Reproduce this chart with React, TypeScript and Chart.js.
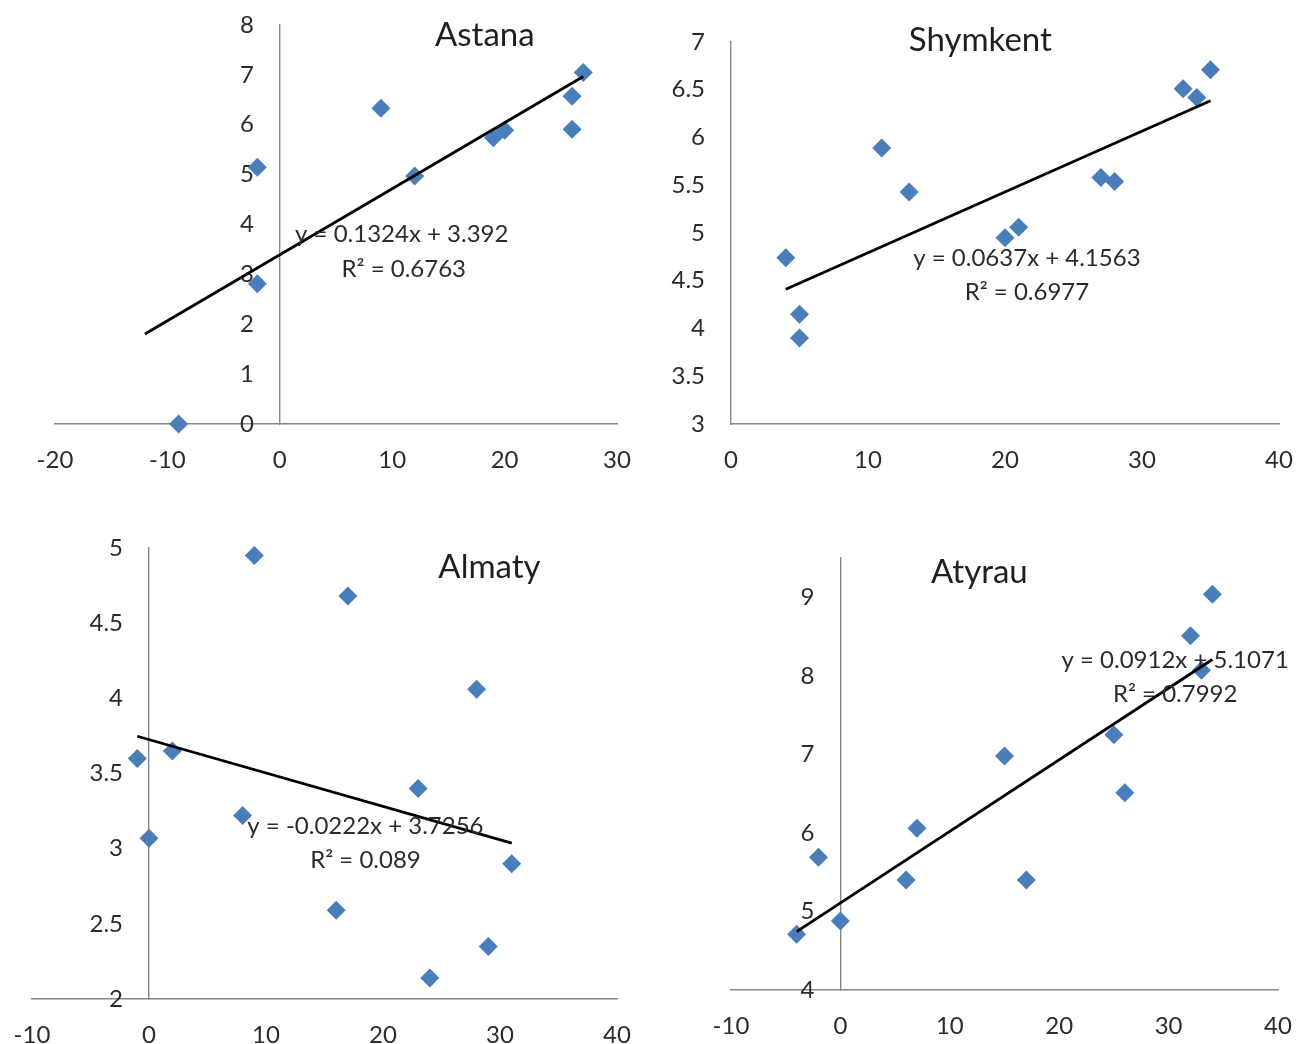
import React, { useEffect, useRef } from 'react';
import { Chart, registerables } from 'chart.js';

Chart.register(...registerables);

// ---------- data ----------
const astanaX = [-9, -2, -2, 9, 12, 19, 20, 26, 26, 27];
const astanaY = [0, 5.15, 2.81, 6.33, 4.97, 5.74, 5.89, 6.57, 5.91, 7.05];

const shymkentX = [4, 5, 5, 11, 13, 20, 21, 27, 28, 33, 34, 35];
const shymkentY = [4.74, 4.15, 3.9, 5.89, 5.43, 4.95, 5.06, 5.58, 5.54, 6.51, 6.42, 6.71];

const almatyX = [-1, 0, 2, 8, 9, 16, 17, 23, 24, 28, 29, 31];
const almatyY = [3.6, 3.07, 3.65, 3.22, 4.95, 2.59, 4.68, 3.4, 2.14, 4.06, 2.35, 2.9];

const atyrauX = [-4, -2, 0, 6, 7, 15, 17, 25, 26, 32, 33, 34];
const atyrauY = [4.71, 5.69, 4.88, 5.4, 6.06, 6.98, 5.4, 7.25, 6.51, 8.51, 8.07, 9.04];

const cityNames = ['Astana', 'Shymkent', 'Almaty', 'Atyrau'];
const trendSlopes = [0.1324, 0.0637, -0.0222, 0.0912];
const trendIntercepts = [3.392, 4.1563, 3.7256, 5.1071];
const trendR2 = [0.6763, 0.6977, 0.089, 0.7992];
const trendFromX = [-12, 4, -1, -4];
const trendToX = [27, 35, 31, 34];

const astanaXTicks = [-20, -10, 0, 10, 20, 30];
const astanaYTicks = [0, 1, 2, 3, 4, 5, 6, 7, 8];
const shymkentXTicks = [0, 10, 20, 30, 40];
const shymkentYTicks = [3, 3.5, 4, 4.5, 5, 5.5, 6, 6.5, 7];
const almatyXTicks = [-10, 0, 10, 20, 30, 40];
const almatyYTicks = [2, 2.5, 3, 3.5, 4, 4.5, 5];
const atyrauXTicks = [-10, 0, 10, 20, 30, 40];
const atyrauYTicks = [4, 5, 6, 7, 8, 9];

const xRanges = [[-20, 30], [0, 40], [-10, 40], [-10, 40]];
const yRanges = [[0, 8], [3, 7], [2, 5], [4, 9.5]];

// ---------- layout / style ----------
const FONT = 'Lato, "Open Sans", sans-serif';
const MARKER = '#4a7ebb';
const AXIS = '#878787';
const TEXT = '#2b2b2b';
const Y_LABEL_GAP = 26;
const X_LABEL_GAP = 22;

const panels = [
  {
    xs: astanaX, ys: astanaY, xTicks: astanaXTicks, yTicks: astanaYTicks,
    left: 0, top: 0, w: 648, h: 500,
    pad: { left: 55, right: 31, top: 25, bottom: 76 },
    titleAt: [18.24, 7.8], eqAt: [10.85, 3.81], r2At: [11.03, 3.11],
  },
  {
    xs: shymkentX, ys: shymkentY, xTicks: shymkentXTicks, yTicks: shymkentYTicks,
    left: 648, top: 0, w: 648, h: 500,
    pad: { left: 83, right: 17, top: 42, bottom: 76 },
    titleAt: [18.2, 7.02], eqAt: [21.6, 4.74], r2At: [21.6, 4.38],
  },
  {
    xs: almatyX, ys: almatyY, xTicks: almatyXTicks, yTicks: almatyYTicks,
    left: 0, top: 500, w: 648, h: 544,
    pad: { left: 32, right: 31, top: 48, bottom: 45 },
    titleAt: [29.1, 4.87], eqAt: [18.5, 3.15], r2At: [18.5, 2.92],
  },
  {
    xs: atyrauX, ys: atyrauY, xTicks: atyrauXTicks, yTicks: atyrauYTicks,
    left: 648, top: 500, w: 648, h: 544,
    pad: { left: 83, right: 18, top: 58, bottom: 54 },
    titleAt: [12.7, 9.32], eqAt: [30.6, 8.2], r2At: [30.6, 7.77],
  },
];

function Panel({ idx }: { idx: number }) {
  const ref = useRef<HTMLCanvasElement | null>(null);
  const p = panels[idx];

  useEffect(() => {
    if (!ref.current) return;
    const pts = p.xs.map((x, i) => ({ x, y: p.ys[i] }));
    const m = trendSlopes[idx];
    const b = trendIntercepts[idx];
    const trend = [trendFromX[idx], trendToX[idx]].map((x) => ({ x, y: m * x + b }));
    const [xMin, xMax] = xRanges[idx];
    const [yMin, yMax] = yRanges[idx];
    const eqText = `y = ${m}x + ${b}`;
    const r2Text = `R\u00b2 = ${trendR2[idx]}`;

    // y-axis tick labels, drawn next to the axis line that crosses at x = 0
    const yLabelPlugin = {
      id: 'yLabels',
      beforeDatasetsDraw(chart: any) {
        const ctx = chart.ctx;
        const sx = chart.scales.x;
        const sy = chart.scales.y;
        const axisX = sx.getPixelForValue(0);
        ctx.save();
        ctx.textAlign = 'right';
        ctx.textBaseline = 'middle';
        ctx.fillStyle = TEXT;
        ctx.font = `24px ${FONT}`;
        for (const t of sy.ticks) {
          ctx.fillText(String(t.value), axisX - Y_LABEL_GAP, sy.getPixelForValue(t.value));
        }
        ctx.restore();
      },
    };

    const textPlugin = {
      id: 'panelText',
      afterDatasetsDraw(chart: any) {
        const ctx = chart.ctx;
        const sx = chart.scales.x;
        const sy = chart.scales.y;
        ctx.save();
        ctx.textAlign = 'center';
        ctx.textBaseline = 'middle';
        ctx.fillStyle = '#1f1f1f';
        ctx.font = `33px ${FONT}`;
        ctx.fillText(cityNames[idx], sx.getPixelForValue(p.titleAt[0]), sy.getPixelForValue(p.titleAt[1]));
        ctx.fillStyle = TEXT;
        ctx.font = `24px ${FONT}`;
        ctx.fillText(eqText, sx.getPixelForValue(p.eqAt[0]), sy.getPixelForValue(p.eqAt[1]));
        ctx.fillText(r2Text, sx.getPixelForValue(p.r2At[0]), sy.getPixelForValue(p.r2At[1]));
        ctx.restore();
      },
    };

    const tickFont = { family: FONT, size: 24 };

    const chart = new Chart(ref.current, {
      type: 'scatter',
      data: {
        datasets: [
          {
            type: 'line',
            data: trend,
            borderColor: '#000',
            borderWidth: 2.8,
            pointRadius: 0,
            fill: false,
            order: 0,
            clip: false,
          } as any,
          {
            data: pts,
            pointStyle: 'rectRot',
            pointRadius: 9.5,
            pointBackgroundColor: MARKER,
            pointBorderColor: MARKER,
            pointBorderWidth: 0,
            order: 1,
            clip: false,
          } as any,
        ],
      },
      options: {
        animation: false,
        responsive: false,
        events: [],
        layout: { padding: p.pad },
        plugins: { legend: { display: false }, tooltip: { enabled: false }, title: { display: false } },
        scales: {
          x: {
            type: 'linear',
            min: xMin,
            max: xMax,
            position: { y: yMin } as any,
            grid: { display: false, drawTicks: true, tickLength: X_LABEL_GAP },
            border: { display: true, color: AXIS, width: 1.4 },
            ticks: {
              padding: 0,
              color: TEXT,
              font: tickFont,
              autoSkip: false,
              maxRotation: 0,
              callback: (v: any) => String(v),
            },
            afterBuildTicks: (s: any) => {
              s.ticks = p.xTicks.map((v) => ({ value: v }));
            },
          },
          y: {
            type: 'linear',
            min: yMin,
            max: yMax,
            position: { x: 0 } as any,
            grid: { display: false, drawTicks: false },
            border: { display: true, color: AXIS, width: 1.4 },
            ticks: {
              display: false,
              padding: 0,
            },
            afterBuildTicks: (s: any) => {
              s.ticks = p.yTicks.map((v) => ({ value: v }));
            },
          },
        } as any,
      },
      plugins: [yLabelPlugin, textPlugin],
    });

    const fonts: any = (document as any).fonts;
    if (fonts && fonts.load) {
      Promise.all([fonts.load(`24px Lato`), fonts.load(`33px Lato`)]).then(() => {
        try { chart.update(); } catch (e) { /* ignore */ }
      });
    }
    return () => chart.destroy();
  }, [idx]);

  return (
    <canvas
      ref={ref}
      width={p.w}
      height={p.h}
      style={{ position: 'absolute', left: p.left, top: p.top, width: p.w, height: p.h }}
    />
  );
}

export default function App() {
  return (
    <div
      style={{
        position: 'absolute',
        left: 0,
        top: 0,
        width: 1296,
        height: 1044,
        background: '#fff',
        overflow: 'hidden',
      }}
    >
      {panels.map((_, i) => (
        <Panel key={i} idx={i} />
      ))}
    </div>
  );
}
